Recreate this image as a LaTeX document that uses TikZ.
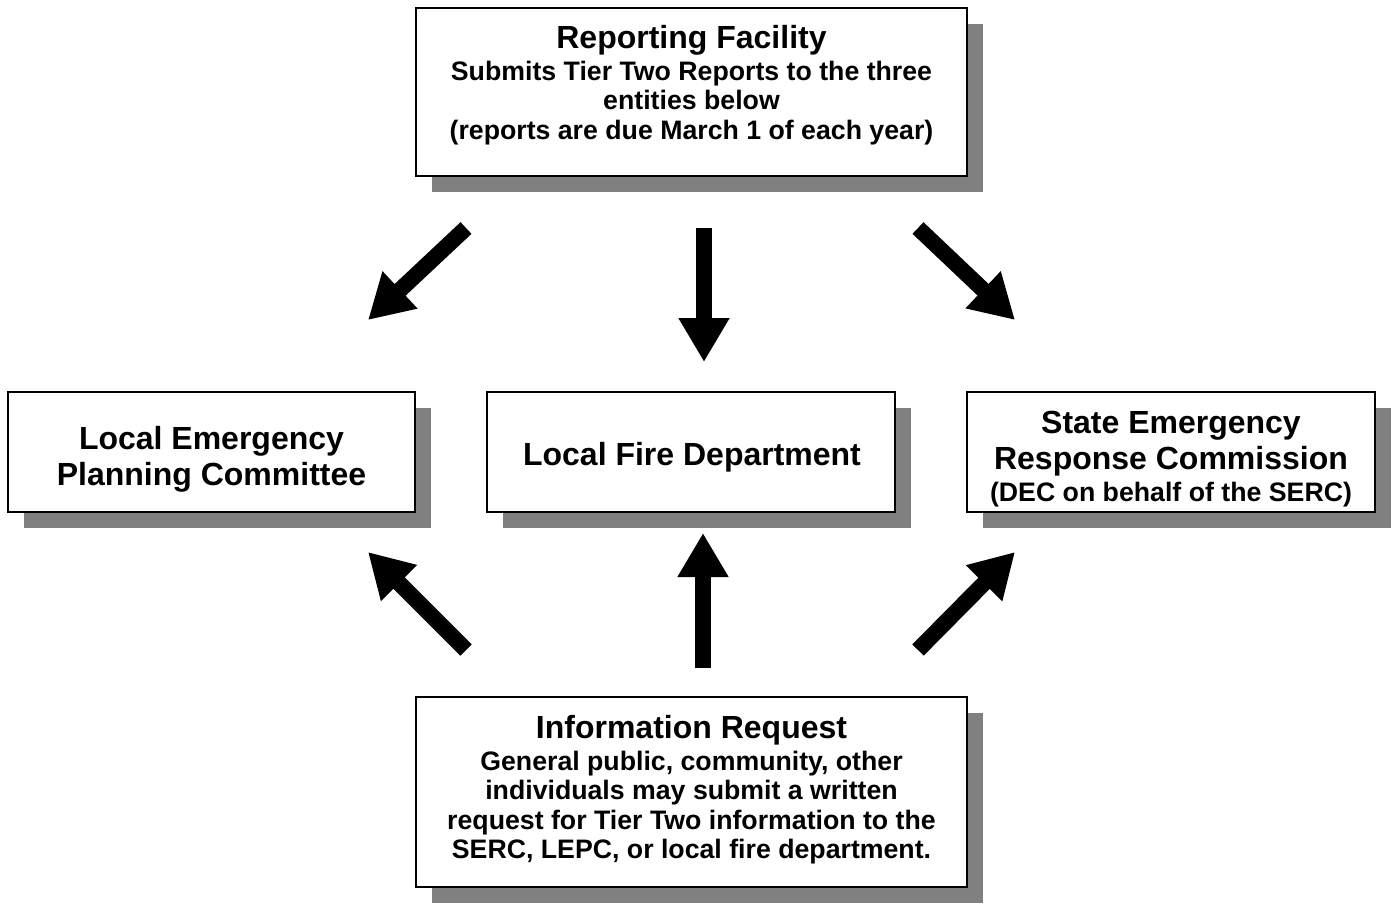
\documentclass[tikz,border=0pt]{standalone}
\usepackage{fontspec}
\setmainfont{Liberation Sans}
\usetikzlibrary{arrows.meta}
\newcommand{\ttl}{\fontsize{32}{36}\selectfont}
\newcommand{\sbt}{\fontsize{26.7}{30.5}\selectfont}
\begin{document}
\begin{tikzpicture}[x=1pt,y=-1pt,
  shadowfill/.style={fill=black!50, draw=none},
  boxstyle/.style={draw=black, fill=white, line width=1.8pt, rectangle, inner sep=0pt},
  tline/.style={font=\ttl\bfseries, inner sep=0pt, anchor=base},
  sline/.style={font=\sbt\bfseries, inner sep=0pt, anchor=base},
  bigarrow/.style={line width=16pt, -{Triangle[length=44pt, width=48pt]}}]
\useasboundingbox[fill=white] (0,0) rectangle (1395,903);
% shadows
\fill[shadowfill] (432,24) rectangle (983,192);
\fill[shadowfill] (24,408) rectangle (431,528);
\fill[shadowfill] (503,408) rectangle (911,528);
\fill[shadowfill] (983,408) rectangle (1391,528);
\fill[shadowfill] (432,713) rectangle (983,903);
% boxes
\node[boxstyle, minimum width=551pt, minimum height=168pt] (rf) at (691.5,92) {};
\node[boxstyle, minimum width=407pt, minimum height=120pt] (lepc) at (211.5,452) {};
\node[boxstyle, minimum width=408pt, minimum height=120pt] (lfd) at (691,452) {};
\node[boxstyle, minimum width=408pt, minimum height=120pt] (serc) at (1171,452) {};
\node[boxstyle, minimum width=551pt, minimum height=190pt] (ir) at (691.5,792) {};
% texts: reporting facility
\node[tline] (rf1) at (691.5,48) {Reporting Facility};
\node[sline] (rf2) at (691.5,80) {Submits Tier Two Reports to the three};
\node[sline] (rf3) at (691.5,109.5) {entities below};
\node[sline] (rf4) at (691.5,139) {(reports are due March 1 of each year)};
% LEPC
\node[tline] (lepc1) at (211.5,449) {Local Emergency};
\node[tline] (lepc2) at (211.5,485) {Planning Committee};
% LFD
\node[tline] (lfd1) at (692,465) {Local Fire Department};
% SERC
\node[tline] (serc1) at (1171,433) {State Emergency};
\node[tline] (serc2) at (1171,469) {Response Commission};
\node[sline] (serc3) at (1171,501.5) {(DEC on behalf of the SERC)};
% Information request
\node[tline] (ir1) at (691.5,738) {Information Request};
\node[sline] (ir2) at (691.5,770) {General public, community, other};
\node[sline] (ir3) at (691.5,799.5) {individuals may submit a written};
\node[sline] (ir4) at (691.5,829) {request for Tier Two information to the};
\node[sline] (ir5) at (691.5,858) {SERC, LEPC, or local fire department.};
% arrow coordinates
\coordinate (dA) at (704,228); \coordinate (dB) at (704,362);
\coordinate (uA) at (703,668); \coordinate (uB) at (703,533);
\coordinate (tlA) at (466,228); \coordinate (tlB) at (368,320);
\coordinate (trA) at (918,228); \coordinate (trB) at (1015,320);
\coordinate (blA) at (466,650); \coordinate (blB) at (368,552);
\coordinate (brA) at (918,650); \coordinate (brB) at (1015,552);
\draw[bigarrow] (dA) -- (dB);
\draw[bigarrow] (uA) -- (uB);
\draw[bigarrow] (tlA) -- (tlB);
\draw[bigarrow] (trA) -- (trB);
\draw[bigarrow] (blA) -- (blB);
\draw[bigarrow] (brA) -- (brB);
\end{tikzpicture}
\end{document}
